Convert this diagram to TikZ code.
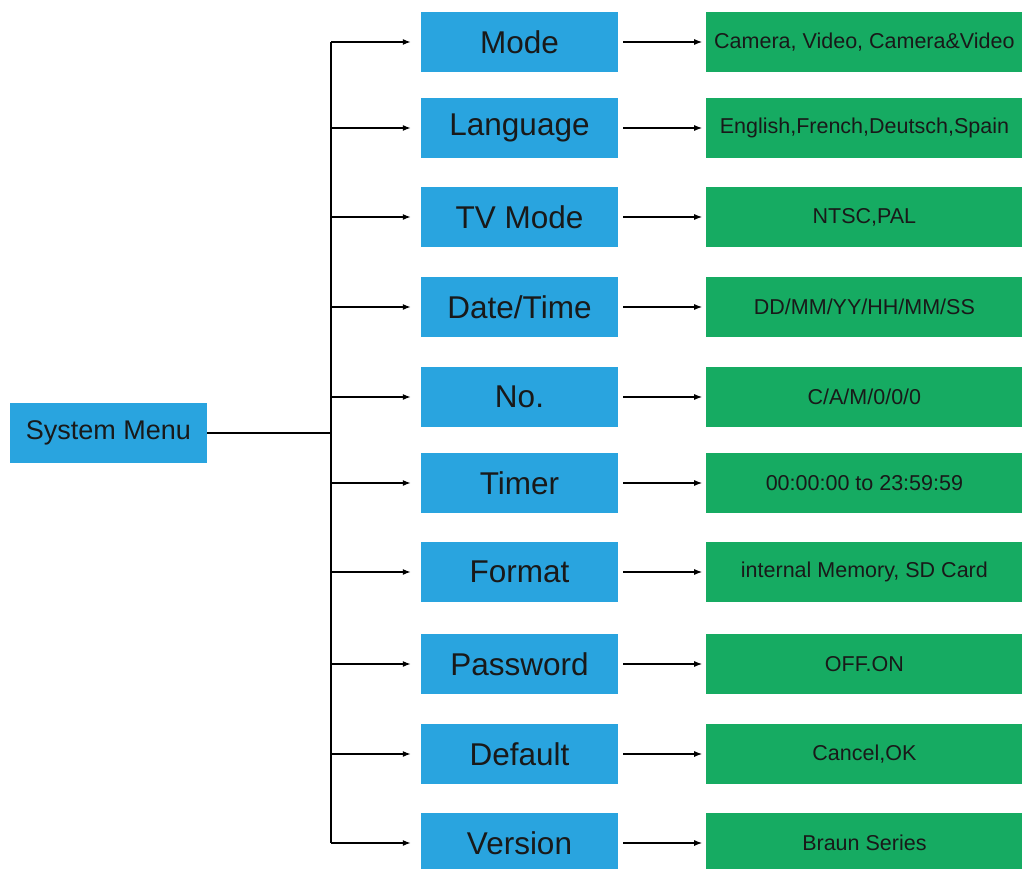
\documentclass[tikz,border=0pt]{standalone}
\usepackage{fontspec}
\setmainfont{Liberation Sans}
\usetikzlibrary{arrows.meta}
\usetikzlibrary{positioning}
\definecolor{menublue}{RGB}{41,164,223}
\definecolor{menugreen}{RGB}{22,171,98}
\begin{document}
\begin{tikzpicture}[x=1pt,y=-1pt,every node/.style={inner sep=0pt,minimum height=60pt,text=black!90},
  item/.style={fill=menublue,minimum width=197pt,font=\fontsize{31.5}{36}\selectfont},
  value/.style={fill=menugreen,minimum width=316pt,font=\fontsize{21.5}{26}\selectfont},
  link/.style={-{Latex[length=8pt,width=6pt]},line width=1.3pt}]
  \useasboundingbox (0,0) rectangle (1022,869);
  \node[fill=menublue,minimum width=197pt,font=\fontsize{27}{32}\selectfont] (sys) at (108.5,433) {System Menu};
  \coordinate (trunk) at (331,433);

  \node[item] (mode) at (519.5,42) {Mode};
  \node[item] (lang) at (519.5,128) {Language};
  \node[item] (tv) at (519.5,217) {TV Mode};
  \node[item] (date) at (519.5,307) {Date/Time};
  \node[item] (no) at (519.5,397) {No.};
  \node[item] (timer) at (519.5,483) {Timer};
  \node[item] (format) at (519.5,572) {Format};
  \node[item] (pass) at (519.5,664) {Password};
  \node[item] (def) at (519.5,754) {Default};
  \node[item] (ver) at (519.5,843) {Version};

  \node[value,right=88pt of mode] (modev) {Camera, Video, Camera\&Video};
  \node[value,right=88pt of lang] (langv) {English,French,Deutsch,Spain};
  \node[value,right=88pt of tv] (tvv) {NTSC,PAL};
  \node[value,right=88pt of date] (datev) {DD/MM/YY/HH/MM/SS};
  \node[value,right=88pt of no] (nov) {C/A/M/0/0/0};
  \node[value,right=88pt of timer] (timerv) {00:00:00 to 23:59:59};
  \node[value,right=88pt of format] (formatv) {internal Memory, SD Card};
  \node[value,right=88pt of pass] (passv) {OFF.ON};
  \node[value,right=88pt of def] (defv) {Cancel,OK};
  \node[value,right=88pt of ver] (verv) {Braun Series};

  \draw[line width=1.3pt](sys)--(trunk);
  \draw[line width=1.3pt](trunk |- mode)--(trunk |- ver);
  \draw[link,shorten >=10pt](trunk |- mode)--(mode);
  \draw[link,shorten >=10pt](trunk |- lang)--(lang);
  \draw[link,shorten >=10pt](trunk |- tv)--(tv);
  \draw[link,shorten >=10pt](trunk |- date)--(date);
  \draw[link,shorten >=10pt](trunk |- no)--(no);
  \draw[link,shorten >=10pt](trunk |- timer)--(timer);
  \draw[link,shorten >=10pt](trunk |- format)--(format);
  \draw[link,shorten >=10pt](trunk |- pass)--(pass);
  \draw[link,shorten >=10pt](trunk |- def)--(def);
  \draw[link,shorten >=10pt](trunk |- ver)--(ver);

  \draw[link,shorten <=5pt,shorten >=4pt](mode)--(modev);
  \draw[link,shorten <=5pt,shorten >=4pt](lang)--(langv);
  \draw[link,shorten <=5pt,shorten >=4pt](tv)--(tvv);
  \draw[link,shorten <=5pt,shorten >=4pt](date)--(datev);
  \draw[link,shorten <=5pt,shorten >=4pt](no)--(nov);
  \draw[link,shorten <=5pt,shorten >=4pt](timer)--(timerv);
  \draw[link,shorten <=5pt,shorten >=4pt](format)--(formatv);
  \draw[link,shorten <=5pt,shorten >=4pt](pass)--(passv);
  \draw[link,shorten <=5pt,shorten >=4pt](def)--(defv);
  \draw[link,shorten <=5pt,shorten >=4pt](ver)--(verv);
\end{tikzpicture}
\end{document}
